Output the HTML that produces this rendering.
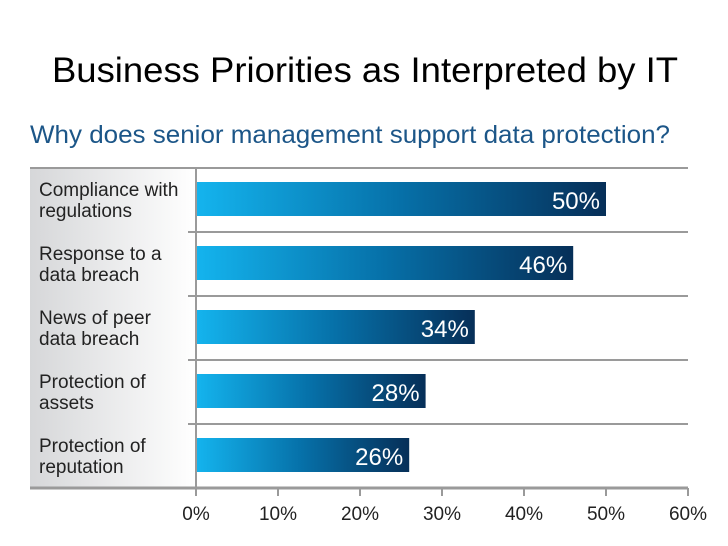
<!DOCTYPE html>
<html><head><meta charset="utf-8"><style>
html,body{margin:0;padding:0;background:#fff;}
svg{display:block;font-family:"Liberation Sans",sans-serif;}
</style></head><body>
<svg width="728" height="546" viewBox="0 0 728 546">
<defs>
<linearGradient id="bar" x1="0" x2="1" y1="0" y2="0"><stop offset="0" stop-color="#14b4ee"/><stop offset="0.5" stop-color="#0670a8"/><stop offset="1" stop-color="#062f58"/></linearGradient>
<linearGradient id="panel" x1="0" x2="1"><stop offset="0" stop-color="#d6d7d9"/><stop offset="1" stop-color="#ffffff"/></linearGradient>
</defs>
<text x="52" y="82" font-size="35" fill="#000" textLength="626" lengthAdjust="spacingAndGlyphs">Business Priorities as Interpreted by IT</text>
<text x="30" y="143" font-size="25" fill="#1c5688" textLength="640" lengthAdjust="spacingAndGlyphs">Why does senior management support data protection?</text>
<g id="plot"></g>
</svg>
<script>
const categories=[["Compliance with","regulations"],["Response to a","data breach"],["News of peer","data breach"],["Protection of","assets"],["Protection of","reputation"]];
const values=[50,46,34,28,26];
const ticks=[0,10,20,30,40,50,60];
const NS="http://www.w3.org/2000/svg";
const g=document.getElementById('plot');
const x0=196,x1=688,yTop=168,rowH=64;
const xs=v=>x0+(v/60)*(x1-x0);
function el(t,a){const e=document.createElementNS(NS,t);for(const k in a)e.setAttribute(k,a[k]);g.appendChild(e);return e;}
const yBottom=yTop+rowH*categories.length;
let p=el('rect',{x:30,y:yTop,width:x0-30,height:yBottom-yTop,fill:'url(#panel)'});


let tl=el('line',{x1:30,x2:x1,y1:yTop,y2:yTop,stroke:'#9a9a9a','stroke-width':2});


categories.forEach((c,i)=>{
 const y=yTop+i*rowH;
 if(i>0){const s=el('line',{x1:188,x2:x1,y1:y,y2:y,stroke:'#9a9a9a','stroke-width':2});
 
 }
 const t=el('text',{x:39,y:y+28,'font-size':19,fill:'#222'});
 
 
 c.forEach((ln,j)=>{const ts=document.createElementNS(NS,'tspan');ts.setAttribute('x',39);ts.setAttribute('y',y+28+j*21);ts.textContent=ln;t.appendChild(ts);});
 const b=el('rect',{x:x0,y:y+14,width:xs(values[i])-x0,height:34,fill:'url(#bar)'});
 
 
 const v=el('text',{x:xs(values[i])-6,y:y+41,'font-size':24,fill:'#fff','text-anchor':'end'});
 v.textContent=values[i]+'%';
 
 
});
let ax=el('line',{x1:30,x2:x1,y1:yBottom,y2:yBottom,stroke:'#9a9a9a','stroke-width':3});


let va=el('line',{x1:x0,x2:x0,y1:yTop,y2:yBottom+8,stroke:'#9a9a9a','stroke-width':2});


ticks.forEach(t=>{
 const x=xs(t);
 const m=el('line',{x1:x,x2:x,y1:yBottom,y2:yBottom+8,stroke:'#9a9a9a','stroke-width':2});
 
 
 const l=el('text',{x:x,y:yBottom+32,'font-size':19,fill:'#222','text-anchor':'middle'});
 l.textContent=t+'%';
 
 
});
</script>
</body></html>
